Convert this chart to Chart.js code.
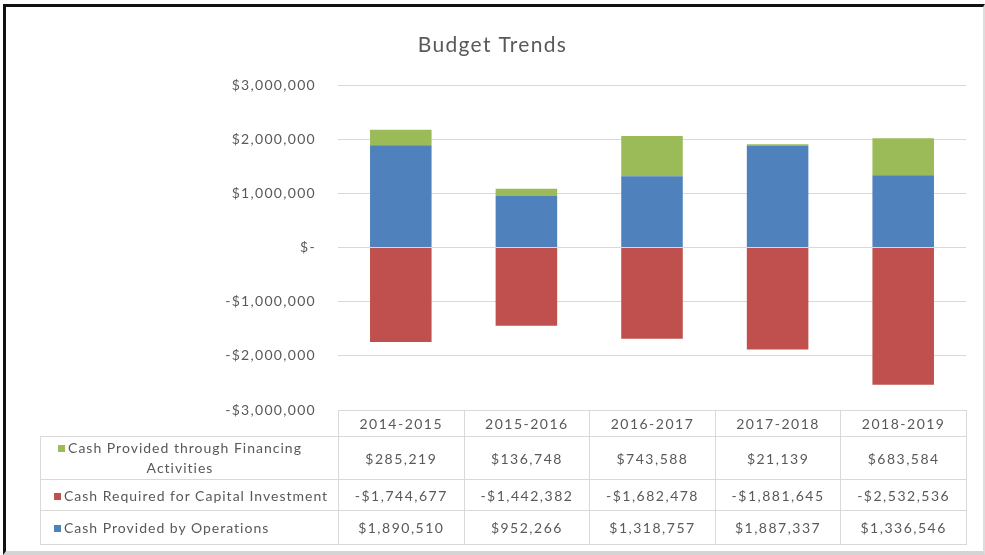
<!DOCTYPE html>
<html>
<head>
<meta charset="utf-8">
<script src="https://cdn.jsdelivr.net/npm/chart.js@4.4.1/dist/chart.umd.min.js"></script>
<style>
  html, body { margin: 0; padding: 0; background: #fff; }
  #frame {
    position: absolute; left: 3px; top: 4px; width: 977px; height: 544px;
    border-left: 3px solid #111; border-top: 3px solid #111;
    border-right: 2px solid #ddd; border-bottom: 4px solid #d4d4d4;
  }
  #wrap { position: absolute; left: 0; top: 0; width: 985px; height: 555px; }
  #dataTable {
    position: absolute; border-collapse: collapse;
    font-family: Lato, "Open Sans", sans-serif; font-size: 14px; color: #595959;
    letter-spacing: 1.5px;
  }
  #dataTable td { border: 1px solid #d9d9d9; text-align: center; padding: 0; }
  #dataTable td.corner { border-top: none; border-left: none; }
  #dataTable td.lbl { text-align: left; padding-left: 13px; white-space: nowrap; letter-spacing: 1px; }
  #dataTable td.lbl.wrapc { white-space: normal; }
  #dataTable .key { display: inline-block; width: 7px; height: 7px; margin-right: 3px; vertical-align: 1px; }
  #dataTable .wrapc span.t { display: inline-block; width: 252px; line-height: 20px; text-align: center; }
</style>
</head>
<body>
<div id="frame"></div>
<div id="wrap">
  <canvas id="budgetChart" width="985" height="555"></canvas>
</div>
<table id="dataTable"></table>
<script>
const years = ['2014-2015', '2015-2016', '2016-2017', '2017-2018', '2018-2019'];
const operations = [1890510, 952266, 1318757, 1887337, 1336546];
const capitalInvestment = [-1744677, -1442382, -1682478, -1881645, -2532536];
const financing = [285219, 136748, 743588, 21139, 683584];
const yTicks = [-3000000, -2000000, -1000000, 0, 1000000, 2000000, 3000000];

const BLUE = '#4f81bd';
const RED = '#c0504d';
const GREEN = '#9bbb59';
const GREY_TEXT = '#595959';

function money(v) {
  if (v === 0) return '$-';
  const s = '$' + Math.abs(v).toLocaleString('en-US');
  return v < 0 ? '-' + s : s;
}

// the source chart's text is set a bit wider than Lato, so open it up a little
const spacing = {
  id: 'spacing',
  beforeDraw: c => { c.ctx.letterSpacing = '1.3px'; }
};

const chart = new Chart(document.getElementById('budgetChart'), {
  type: 'bar',
  data: {
    labels: years,
    datasets: [
      { label: 'Cash Provided by Operations', data: operations, backgroundColor: BLUE },
      { label: 'Cash Required for Capital Investment', data: capitalInvestment, backgroundColor: RED },
      { label: 'Cash Provided through Financing Activities', data: financing, backgroundColor: GREEN }
    ]
  },
  plugins: [spacing],
  options: {
    responsive: false,
    animation: false,
    layout: { padding: { top: 5, bottom: 145, left: 0, right: 0 } },
    datasets: { bar: { categoryPercentage: 1, barPercentage: 0.49, borderWidth: 0 } },
    plugins: {
      legend: { display: false },
      tooltip: { enabled: false },
      title: {
        display: true,
        text: 'Budget Trends',
        color: GREY_TEXT,
        font: { family: 'Lato', size: 21, weight: 'normal' },
        padding: { top: 28, bottom: 27 }
      }
    },
    scales: {
      x: { stacked: true, display: false },
      y: {
        stacked: true,
        min: -3000000,
        max: 3000000,
        afterFit: s => { s.width = 338; },
        afterBuildTicks: s => { s.ticks = yTicks.map(v => ({ value: v })); },
        border: { display: false },
        grid: { color: '#d9d9d9', drawTicks: false },
        ticks: {
          padding: 22,
          color: GREY_TEXT,
          font: { family: 'Lato', size: 14 },
          callback: v => money(v)
        }
      },
      // empty right margin, kept as an axis so the title centres on the whole frame
      yRight: {
        position: 'right',
        min: -3000000,
        max: 3000000,
        afterFit: s => { s.width = 19; },
        border: { display: false },
        grid: { display: false },
        ticks: { display: false }
      }
    }
  }
});

// data table under the plot, columns taken from the chart area
const rows = [
  { name: 'Cash Provided through Financing Activities', color: GREEN, values: financing, h: 43, wrap: true },
  { name: 'Cash Required for Capital Investment', color: RED, values: capitalInvestment, h: 31 },
  { name: 'Cash Provided by Operations', color: BLUE, values: operations, h: 34 }
];
const area = chart.chartArea;
const colW = (area.right - area.left) / years.length;
const legendLeft = 40;
const legendW = area.left - legendLeft;
const table = document.getElementById('dataTable');
table.style.left = legendLeft + 'px';
table.style.top = area.bottom + 'px';
table.style.tableLayout = 'fixed';
table.style.width = (legendW + colW * years.length) + 'px';

let html = '<colgroup><col style="width:' + legendW + 'px">';
years.forEach(() => { html += '<col style="width:' + colW + 'px">'; });
html += '</colgroup><tr style="height:26px"><td class="corner"></td>';
years.forEach(y => { html += '<td>' + y + '</td>'; });
html += '</tr>';
rows.forEach(r => {
  html += '<tr style="height:' + r.h + 'px"><td class="lbl' + (r.wrap ? ' wrapc' : '') + '">';
  const key = '<span class="key" style="background:' + r.color + '"></span>';
  html += r.wrap ? '<span class="t">' + key + r.name + '</span>' : key + r.name;
  html += '</td>';
  r.values.forEach(v => { html += '<td>' + money(v) + '</td>'; });
  html += '</tr>';
});
table.innerHTML = html;
</script>
</body>
</html>
